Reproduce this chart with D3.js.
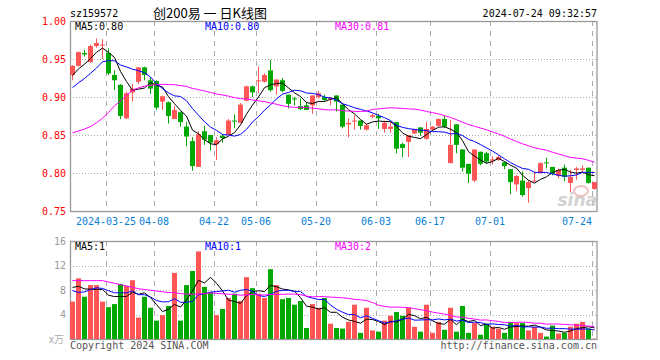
<!DOCTYPE html>
<html>
<head>
<meta charset="utf-8">
<script src="https://cdn.jsdelivr.net/npm/d3@7"></script>
<style>
  html, body { margin: 0; padding: 0; background: #fff; }
  svg { display: block; }
</style>
</head>
<body>
<svg id="chart" width="660" height="360"></svg>
<script>
// trading days shown on the chart (2024)
const dates = [
  "03-15","03-18","03-19","03-20","03-21","03-22","03-25","03-26","03-27","03-28","03-29",
  "04-01","04-02","04-03","04-08","04-09","04-10","04-11","04-12","04-15","04-16","04-17",
  "04-18","04-19","04-22","04-23","04-24","04-25","04-26","04-29","04-30",
  "05-06","05-07","05-08","05-09","05-10","05-13","05-14","05-15","05-16","05-17","05-20",
  "05-21","05-22","05-23","05-24","05-27","05-28","05-29","05-30","05-31",
  "06-03","06-04","06-05","06-06","06-07","06-11","06-12","06-13","06-14","06-17","06-18",
  "06-19","06-20","06-21","06-24","06-25","06-26","06-27","06-28",
  "07-01","07-02","07-03","07-04","07-05","07-08","07-09","07-10","07-11","07-12","07-15",
  "07-16","07-17","07-18","07-19","07-22","07-23","07-24"
];

const open = [
  0.929,0.941,0.958,0.946,0.967,0.968,0.958,0.929,0.916,0.872,
  0.906,0.920,0.939,0.922,0.921,0.894,0.893,0.871,0.880,0.861,
  0.842,0.808,0.855,0.850,0.838,0.849,0.850,0.869,0.866,0.895,
  0.914,0.921,0.920,0.935,0.914,0.922,0.903,0.898,0.888,0.889,
  0.889,0.900,0.900,0.897,0.902,0.890,0.864,0.868,0.869,0.857,
  0.874,0.875,0.858,0.858,0.867,0.838,0.841,0.852,0.860,0.845,
  0.857,0.862,0.871,0.813,0.864,0.831,0.812,0.790,0.828,0.826,
  0.816,0.817,0.814,0.805,0.785,0.790,0.780,0.789,0.800,0.814,
  0.808,0.796,0.807,0.787,0.804,0.804,0.807,0.779
];
const high = [
  0.942,0.960,0.962,0.969,0.977,0.976,0.964,0.935,0.917,0.907,
  0.917,0.939,0.940,0.926,0.922,0.902,0.894,0.888,0.881,0.867,
  0.847,0.855,0.862,0.850,0.847,0.851,0.871,0.877,0.892,0.915,
  0.915,0.940,0.931,0.949,0.923,0.925,0.903,0.900,0.898,0.893,
  0.902,0.908,0.903,0.900,0.902,0.890,0.872,0.876,0.869,0.865,
  0.878,0.878,0.869,0.867,0.867,0.840,0.850,0.858,0.860,0.867,
  0.862,0.872,0.876,0.870,0.864,0.831,0.812,0.831,0.828,0.828,
  0.822,0.823,0.815,0.805,0.797,0.802,0.790,0.802,0.814,0.820,
  0.808,0.806,0.811,0.804,0.808,0.810,0.807,0.788
];
const low = [
  0.922,0.940,0.953,0.945,0.965,0.950,0.929,0.909,0.871,0.871,
  0.894,0.917,0.922,0.904,0.883,0.883,0.865,0.871,0.861,0.835,
  0.803,0.808,0.837,0.830,0.817,0.840,0.850,0.859,0.866,0.894,
  0.900,0.905,0.919,0.907,0.903,0.906,0.885,0.889,0.883,0.883,
  0.878,0.898,0.894,0.889,0.881,0.859,0.847,0.857,0.857,0.856,
  0.872,0.858,0.853,0.853,0.826,0.821,0.821,0.851,0.849,0.844,
  0.856,0.861,0.859,0.813,0.826,0.802,0.787,0.788,0.810,0.812,
  0.811,0.816,0.805,0.772,0.776,0.769,0.761,0.788,0.799,0.806,
  0.797,0.793,0.789,0.775,0.791,0.800,0.786,0.778
];
const close = [
  0.941,0.959,0.956,0.967,0.971,0.969,0.931,0.922,0.875,0.905,
  0.911,0.939,0.929,0.911,0.886,0.901,0.875,0.883,0.867,0.848,
  0.809,0.851,0.844,0.840,0.843,0.846,0.869,0.868,0.890,0.914,
  0.906,0.922,0.929,0.909,0.923,0.908,0.891,0.897,0.884,0.883,
  0.902,0.905,0.896,0.899,0.894,0.861,0.866,0.869,0.862,0.863,
  0.876,0.872,0.866,0.861,0.832,0.833,0.850,0.858,0.853,0.858,
  0.861,0.871,0.861,0.837,0.837,0.807,0.799,0.831,0.812,0.815,
  0.818,0.821,0.809,0.788,0.796,0.771,0.788,0.790,0.813,0.813,
  0.799,0.804,0.795,0.795,0.806,0.806,0.787,0.788
];
// volume, in 万 (10k) lots
const volume = [
  6.1,9.9,6.9,8.8,8.8,6.1,5.2,5.7,9.0,8.7,
  9.6,3.5,6.9,5.1,3.0,3.9,5.4,10.8,3.0,8.8,
  11.1,14.3,8.5,7.7,3.9,4.9,6.7,7.4,6.2,10.1,
  8.3,7.4,6.7,11.4,8.8,6.5,6.7,5.6,6.2,1.8,
  5.7,5.1,6.7,2.5,1.8,1.7,2.8,5.6,1.0,5.1,
  1.4,1.2,3.0,3.8,4.4,3.8,5.1,2.0,1.2,5.6,
  1.0,2.8,1.5,5.1,1.2,5.4,1.0,2.6,0.7,2.5,
  2.0,1.7,1.0,2.8,2.6,2.6,1.4,2.0,1.0,0.4,
  2.2,0.9,1.0,2.0,2.5,2.8,1.7,0.05
];

// sessions before the visible window (read back from where the MA lines start)
const priorClose = [
  0.890,0.880,0.870,0.820,0.792,0.700,0.660,0.680,0.690,0.704,
  0.850,0.860,0.870,0.875,0.880,0.885,0.890,0.901,0.880,0.890,
  0.895,0.900,0.898,0.902,0.887,0.915,0.925,0.930,0.930
];
const priorVolume = [
  9.9,6.9,8.8,8.8,6.1,11.8,12.3,15.6,15.3,16.2,
  10.1,10.6,8.9,6.8,7.7,9,11,8,11,12,
  13,6,5,6,7,9,9,9,9
];

const tickDates = ["03-25","04-08","04-22","05-06","05-20","06-03","06-17","07-01","07-24"];
const tickLabels = ["2024-03-25","04-08","04-22","05-06","05-20","06-03","06-17","07-01","07-24"];
const priceTicks = [1.00, 0.95, 0.90, 0.85, 0.80, 0.75];
const volumeTicks = [16, 12, 8, 4];
const maPeriods = [5, 10, 30];
const maColors = ["#000000", "#0000ff", "#ff00ff"];
const priceLegend = ["MA5:0.80", "MA10:0.80", "MA30:0.81"];
const volumeLegend = ["MA5:1", "MA10:1", "MA30:2"];

const svg = d3.select("#chart");
const MONO = "'DejaVu Sans Mono', 'Liberation Mono', monospace";
const UP = "#ff5555";
const DOWN = "#00a800";
const GRID = "#aaaaaa";

const left = 70, right = 597;
const priceTop = 21, priceBottom = 211;
const volTop = 241, volBottom = 339;

const x = d3.scaleBand().domain(dates).range([left, left + 6 * dates.length]).padding(0);
const yPrice = d3.scaleLinear().domain([0.75, 1.0]).range([priceBottom, priceTop]);
const yVol = d3.scaleLinear().domain([0, 16]).range([volBottom, volTop]);

// moving average using the earlier sessions for the warm-up
function movingAvg(series, prior, n) {
  const all = prior.concat(series);
  return series.map((_, i) => {
    const end = prior.length + i + 1;
    return d3.mean(all.slice(end - n, end));
  });
}

const isUp = dates.map((_, i) => close[i] >= open[i]);

// ---- header
svg.append("text").attr("x", 70).attr("y", 17)
  .attr("font-family", MONO).attr("font-size", 10).attr("fill", "#000")
  .text("sz159572");
svg.append("text").attr("x", 210).attr("y", 17.5).attr("text-anchor", "middle")
  .attr("font-family", "'Noto Sans CJK SC', sans-serif").attr("font-size", 13).attr("fill", "#000")
  .text("创200易 一 日K线图");
svg.append("text").attr("x", 597).attr("y", 17).attr("text-anchor", "end")
  .attr("font-family", MONO).attr("font-size", 10).attr("fill", "#000")
  .text("2024-07-24 09:32:57");

// ---- grids
function drawPanel(top, bottom, yScale, ticks, gridTicks, labelColor) {
  const g = svg.append("g");
  g.selectAll(".hgrid").data(gridTicks).enter().append("line")
    .attr("x1", left).attr("x2", right)
    .attr("y1", (d) => Math.round(yScale(d)) + 0.5)
    .attr("y2", (d) => Math.round(yScale(d)) + 0.5)
    .attr("stroke", GRID).attr("stroke-dasharray", "1,2");
  g.selectAll(".vgrid").data(tickDates).enter().append("line")
    .attr("x1", (d) => x(d) + 0.5).attr("x2", (d) => x(d) + 0.5)
    .attr("y1", top).attr("y2", bottom)
    .attr("stroke", GRID).attr("stroke-dasharray", "5,5");
  g.append("rect")
    .attr("x", left + 0.5).attr("y", top + 0.5)
    .attr("width", right - left - 0.5).attr("height", bottom - top)
    .attr("fill", "none").attr("stroke", "#999").attr("stroke-width", 1.3);
  g.selectAll(".ylab").data(ticks).enter().append("text")
    .attr("x", 66).attr("y", (d) => yScale(d) + 3.5)
    .attr("text-anchor", "end")
    .attr("font-family", MONO).attr("font-size", 10)
    .attr("fill", labelColor)
    .text((d) => (labelColor === "red" ? d.toFixed(2) : d));
}
drawPanel(priceTop, priceBottom, yPrice, priceTicks, [0.95, 0.90, 0.85, 0.80], "red");
drawPanel(volTop, volBottom, yVol, volumeTicks, [12, 8, 4], "#999");

svg.append("text").attr("x", 64).attr("y", 343).attr("text-anchor", "end")
  .attr("font-family", "'Noto Sans CJK SC', sans-serif").attr("font-size", 10).attr("fill", "#aaa")
  .text("x万");

// date labels
svg.append("g").selectAll("text").data(tickDates).enter().append("text")
  .attr("x", (d) => x(d))
  .attr("y", 225)
  .attr("text-anchor", (d, i) => (i === tickDates.length - 1 ? "end" : "middle"))
  .attr("font-family", MONO).attr("font-size", 10).attr("fill", "#0a7fd8")
  .text((d, i) => tickLabels[i]);

// sina watermark
svg.append("text").attr("x", 597).attr("y", 206).attr("text-anchor", "end")
  .attr("font-family", "'DejaVu Sans', sans-serif").attr("font-size", 17)
  .attr("font-weight", "bold").attr("font-style", "italic")
  .attr("fill", "#c8c8c8").attr("opacity", 0.8)
  .text("sina");
svg.append("ellipse").attr("cx", 581).attr("cy", 191).attr("rx", 7).attr("ry", 5)
  .attr("fill", "none").attr("stroke", "#e8b0b0").attr("stroke-width", 2).attr("opacity", 0.8);

// ---- candles
const candles = svg.append("g").selectAll("g").data(dates).enter().append("g");
candles.append("line")
  .attr("x1", (d) => x(d) + 2.5).attr("x2", (d) => x(d) + 2.5)
  .attr("y1", (d, i) => yPrice(high[i])).attr("y2", (d, i) => yPrice(low[i]))
  .attr("stroke", (d, i) => (isUp[i] ? UP : DOWN));
candles.append("rect")
  .attr("x", (d) => x(d))
  .attr("width", 5)
  .attr("y", (d, i) => yPrice(Math.max(open[i], close[i])))
  .attr("height", (d, i) => Math.max(1, Math.abs(yPrice(open[i]) - yPrice(close[i]))))
  .attr("fill", (d, i) => (isUp[i] ? UP : DOWN));

// ---- volume bars
svg.append("g").selectAll("rect").data(dates).enter().append("rect")
  .attr("x", (d) => x(d))
  .attr("width", 5)
  .attr("y", (d, i) => yVol(volume[i]))
  .attr("height", (d, i) => volBottom - yVol(volume[i]))
  .attr("fill", (d, i) => (isUp[i] ? UP : DOWN));

// ---- moving averages
function drawMAs(series, prior, yScale) {
  maPeriods.forEach((n, k) => {
    const ma = movingAvg(series, prior, n);
    const line = d3.line()
      .x((d, i) => x(dates[i]) + 2.5)
      .y((d) => yScale(d));
    svg.append("path").datum(ma)
      .attr("d", line)
      .attr("fill", "none")
      .attr("stroke", maColors[k])
      .attr("stroke-width", 1);
  });
}
drawMAs(close, priorClose, yPrice);
drawMAs(volume, priorVolume, yVol);

// ---- legends
const legendX = [75, 205, 335];
svg.append("g").selectAll("text").data(priceLegend).enter().append("text")
  .attr("x", (d, i) => legendX[i]).attr("y", 29.5)
  .attr("font-family", MONO).attr("font-size", 10)
  .attr("fill", (d, i) => maColors[i])
  .text((d) => d);
svg.append("g").selectAll("text").data(volumeLegend).enter().append("text")
  .attr("x", (d, i) => legendX[i]).attr("y", 250)
  .attr("font-family", MONO).attr("font-size", 10)
  .attr("fill", (d, i) => maColors[i])
  .text((d) => d);

// ---- footer
svg.append("text").attr("x", 70).attr("y", 349)
  .attr("font-family", MONO).attr("font-size", 10).attr("fill", "#555")
  .text("Copyright 2024 SINA.COM");
svg.append("text").attr("x", 597).attr("y", 349).attr("text-anchor", "end")
  .attr("font-family", MONO).attr("font-size", 10).attr("fill", "#555")
  .text("http://finance.sina.com.cn");
</script>
</body>
</html>
